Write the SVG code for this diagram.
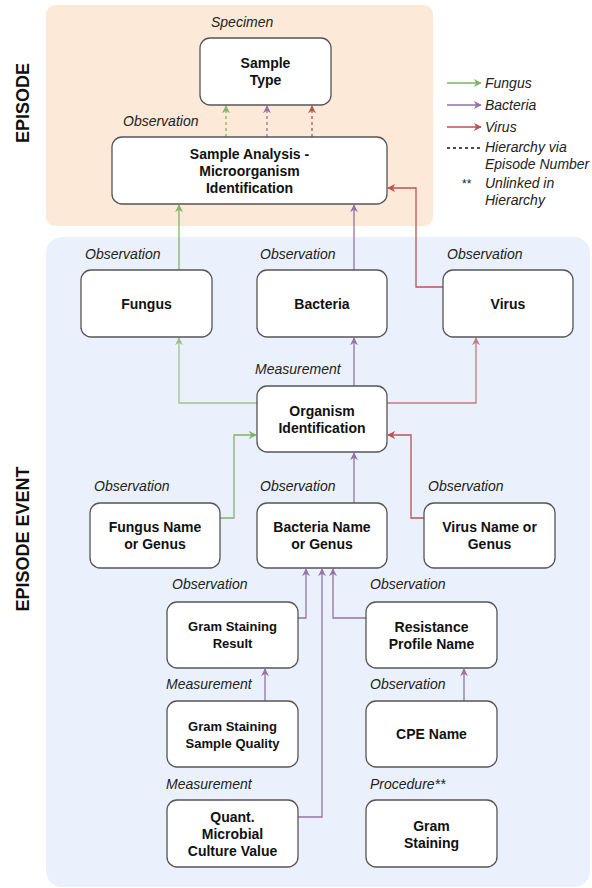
<svg xmlns="http://www.w3.org/2000/svg" width="592" height="888" viewBox="0 0 592 888">
<defs>
<style>
.box{fill:#ffffff;stroke:#555555;stroke-width:1.3}
.t{font-family:"Liberation Sans",Arial,sans-serif;font-weight:bold;font-size:14px;fill:#111111;text-anchor:middle}
.ts{font-size:13px}
.lab{font-family:"Liberation Sans",Arial,sans-serif;font-style:italic;font-size:14px;fill:#222222}
.side{font-family:"Liberation Sans",Arial,sans-serif;font-weight:bold;font-size:18px;fill:#111111;text-anchor:middle}
.c{fill:none;stroke-width:1.3}
.g{stroke:#82b366}
.p{stroke:#9673a6}
.r{stroke:#b85450}
.lt{opacity:0.75}
.d{stroke-dasharray:3 3}
</style>
<marker id="ag" viewBox="0 0 10 10" refX="9" refY="5" markerWidth="8" markerHeight="8" markerUnits="userSpaceOnUse" orient="auto"><path d="M0,0 L10,5 L0,10 L3,5 z" fill="#82b366"/></marker>
<marker id="ap" viewBox="0 0 10 10" refX="9" refY="5" markerWidth="8" markerHeight="8" markerUnits="userSpaceOnUse" orient="auto"><path d="M0,0 L10,5 L0,10 L3,5 z" fill="#9673a6"/></marker>
<marker id="ar" viewBox="0 0 10 10" refX="9" refY="5" markerWidth="8" markerHeight="8" markerUnits="userSpaceOnUse" orient="auto"><path d="M0,0 L10,5 L0,10 L3,5 z" fill="#b85450"/></marker>
</defs>

<g id="panels">
<rect x="46" y="5" width="387" height="221" rx="9" fill="#fce9d7"/>
<rect x="46" y="237" width="544" height="650" rx="16" fill="#eaf1fc"/>
<text class="side" transform="translate(29,103) rotate(-90)">EPISODE</text>
<text class="side" transform="translate(29,539) rotate(-90)">EPISODE EVENT</text>
</g>

<g id="legend">
<line x1="447" y1="83" x2="481" y2="83" class="c g" marker-end="url(#ag)"/>
<line x1="447" y1="105" x2="481" y2="105" class="c p" marker-end="url(#ap)"/>
<line x1="447" y1="127" x2="481" y2="127" class="c r" marker-end="url(#ar)"/>
<line x1="447" y1="148" x2="483" y2="148" class="c d" stroke="#111111"/>
<text class="lab" x="485" y="88">Fungus</text>
<text class="lab" x="485" y="110">Bacteria</text>
<text class="lab" x="485" y="132">Virus</text>
<text class="lab" x="485" y="152">Hierarchy via</text>
<text class="lab" x="485" y="169">Episode Number</text>
<text class="lab" x="462" y="188" style="font-style:normal;font-size:12px">**</text>
<text class="lab" x="485" y="188">Unlinked in</text>
<text class="lab" x="485" y="205">Hierarchy</text>
</g>

<g id="connectors">
<line x1="226" y1="137" x2="226" y2="106" class="c g d" marker-end="url(#ag)"/>
<line x1="267" y1="137" x2="267" y2="106" class="c p d" marker-end="url(#ap)"/>
<line x1="312" y1="137" x2="312" y2="106" class="c r d" marker-end="url(#ar)"/>
<line x1="179" y1="270" x2="179" y2="205" class="c g" marker-end="url(#ag)"/>
<line x1="354" y1="270" x2="354" y2="205" class="c p" marker-end="url(#ap)"/>
<polyline points="443,287 416,287 416,188 388,188" class="c r" marker-end="url(#ar)"/>
<polyline points="257,403 179,403 179,338" class="c g lt" marker-end="url(#ag)"/>
<line x1="354" y1="386" x2="354" y2="338" class="c p" marker-end="url(#ap)"/>
<polyline points="387,403 476,403 476,338" class="c r lt" marker-end="url(#ar)"/>
<polyline points="220,518 234,518 234,435 256,435" class="c g" marker-end="url(#ag)"/>
<line x1="354" y1="503" x2="354" y2="453" class="c p" marker-end="url(#ap)"/>
<polyline points="424,518 411,518 411,435 388,435" class="c r" marker-end="url(#ar)"/>
<polyline points="298,618 306,618 306,569" class="c p" marker-end="url(#ap)"/>
<polyline points="298,817 322,817 322,569" class="c p" marker-end="url(#ap)"/>
<polyline points="366,618 333,618 333,569" class="c p" marker-end="url(#ap)"/>
<line x1="265" y1="701" x2="265" y2="669" class="c p" marker-end="url(#ap)"/>
<line x1="464" y1="701" x2="464" y2="669" class="c p" marker-end="url(#ap)"/>
</g>

<g id="sample-type">
<text class="lab" x="211" y="27">Specimen</text>
<rect class="box" x="200" y="38" width="131" height="67" rx="10"/>
<text class="t" x="265.5" y="68">Sample</text>
<text class="t" x="265.5" y="85">Type</text>
</g>

<g id="sample-analysis">
<text class="lab" x="123" y="126">Observation</text>
<rect class="box" x="112" y="137" width="275" height="67" rx="10"/>
<text class="t" x="249.5" y="158.5">Sample Analysis -</text>
<text class="t" x="249.5" y="175.5">Microorganism</text>
<text class="t" x="249.5" y="192.5">Identification</text>
</g>

<g id="fungus">
<text class="lab" x="85" y="259">Observation</text>
<rect class="box" x="81" y="270" width="131" height="67" rx="10"/>
<text class="t" x="146.5" y="308.5">Fungus</text>
</g>

<g id="bacteria">
<text class="lab" x="260" y="259">Observation</text>
<rect class="box" x="257" y="270" width="130" height="67" rx="10"/>
<text class="t" x="322" y="308.5">Bacteria</text>
</g>

<g id="virus">
<text class="lab" x="447" y="259">Observation</text>
<rect class="box" x="443" y="270" width="130" height="67" rx="10"/>
<text class="t" x="508" y="308.5">Virus</text>
</g>

<g id="organism-identification">
<text class="lab" x="255" y="374">Measurement</text>
<rect class="box" x="257" y="386" width="130" height="66" rx="10"/>
<text class="t" x="322" y="415.5">Organism</text>
<text class="t" x="322" y="432.5">Identification</text>
</g>

<g id="fungus-name">
<text class="lab" x="94" y="491">Observation</text>
<rect class="box" x="90" y="503" width="130" height="65" rx="10"/>
<text class="t" x="155" y="532">Fungus Name</text>
<text class="t" x="155" y="549">or Genus</text>
</g>

<g id="bacteria-name">
<text class="lab" x="260" y="491">Observation</text>
<rect class="box" x="257" y="503" width="130" height="65" rx="10"/>
<text class="t" x="322" y="532">Bacteria Name</text>
<text class="t" x="322" y="549">or Genus</text>
</g>

<g id="virus-name">
<text class="lab" x="428" y="491">Observation</text>
<rect class="box" x="424" y="503" width="131" height="65" rx="10"/>
<text class="t" x="489.5" y="532">Virus Name or</text>
<text class="t" x="489.5" y="549">Genus</text>
</g>

<g id="gram-staining-result">
<text class="lab" x="172" y="589">Observation</text>
<rect class="box" x="167" y="602" width="131" height="66" rx="10"/>
<text class="t ts" x="232.5" y="631">Gram Staining</text>
<text class="t ts" x="232.5" y="648">Result</text>
</g>

<g id="resistance-profile">
<text class="lab" x="370" y="589">Observation</text>
<rect class="box" x="366" y="602" width="131" height="66" rx="10"/>
<text class="t" x="431.5" y="631.5">Resistance</text>
<text class="t" x="431.5" y="648.5">Profile Name</text>
</g>

<g id="gram-staining-quality">
<text class="lab" x="166" y="689">Measurement</text>
<rect class="box" x="167" y="701" width="131" height="66" rx="10"/>
<text class="t ts" x="232.5" y="730.5">Gram Staining</text>
<text class="t ts" x="232.5" y="747.5">Sample Quality</text>
</g>

<g id="cpe-name">
<text class="lab" x="370" y="689">Observation</text>
<rect class="box" x="366" y="701" width="131" height="66" rx="10"/>
<text class="t" x="431.5" y="739">CPE Name</text>
</g>

<g id="quant-value">
<text class="lab" x="166" y="789">Measurement</text>
<rect class="box" x="167" y="800" width="131" height="67" rx="10"/>
<text class="t" x="232.5" y="822">Quant.</text>
<text class="t" x="232.5" y="839">Microbial</text>
<text class="t" x="232.5" y="856">Culture Value</text>
</g>

<g id="gram-staining">
<text class="lab" x="370" y="789">Procedure**</text>
<rect class="box" x="366" y="800" width="131" height="67" rx="10"/>
<text class="t" x="431.5" y="830.5">Gram</text>
<text class="t" x="431.5" y="847.5">Staining</text>
</g>
</svg>
